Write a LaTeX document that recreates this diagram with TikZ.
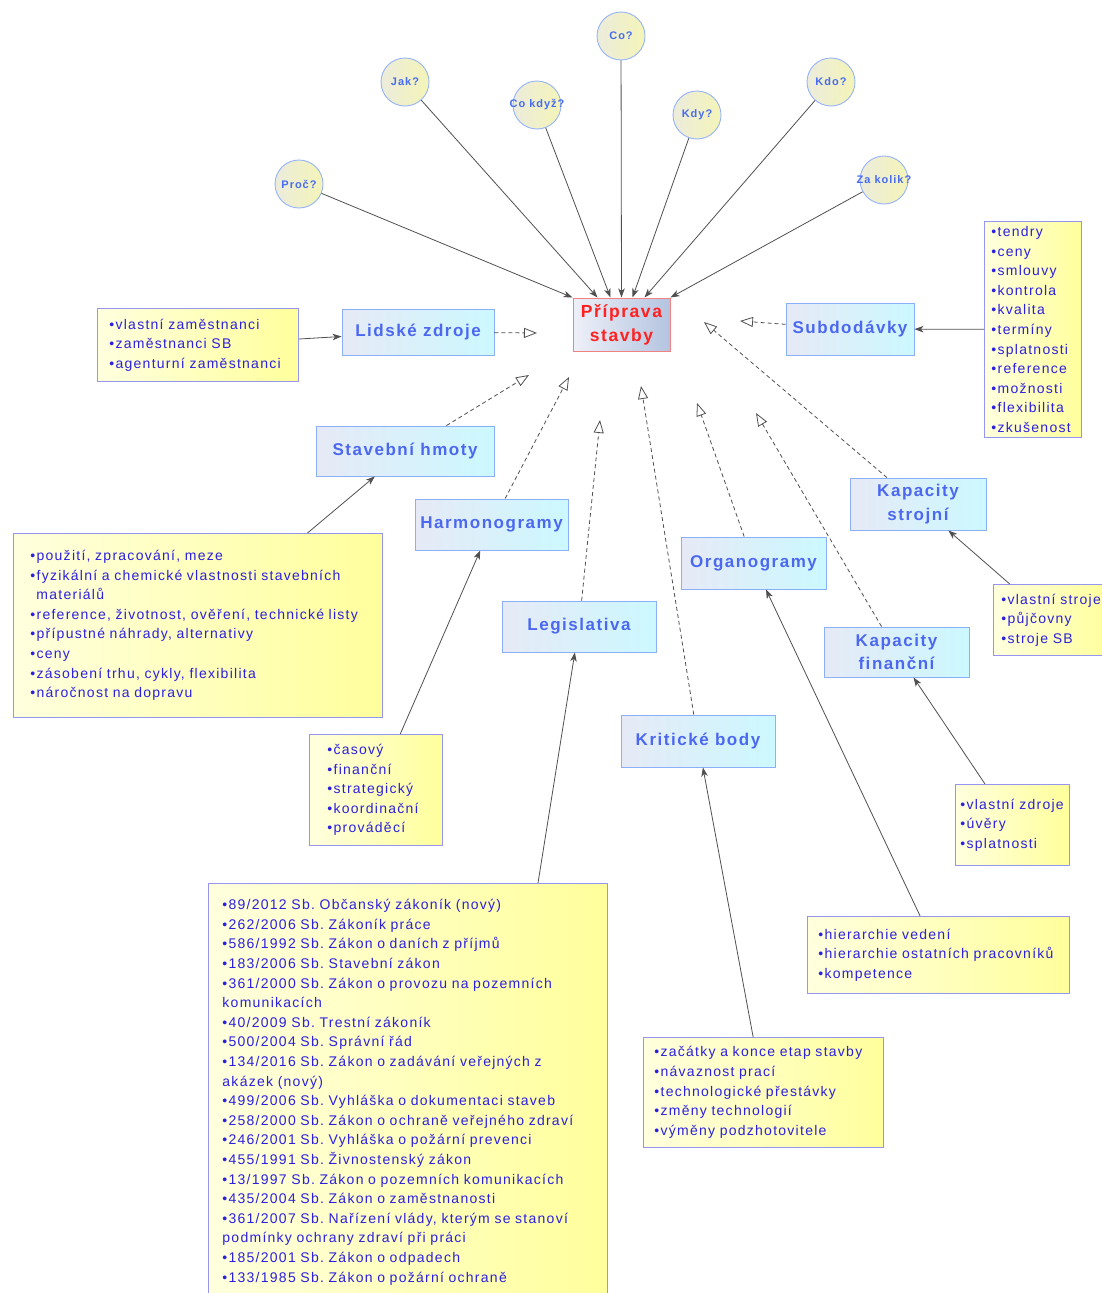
\documentclass[tikz,border=0pt]{standalone}
\usepackage{fontspec}
\setmainfont{Liberation Sans}[LetterSpace=9]
\usetikzlibrary{arrows.meta}

\definecolor{wire}{RGB}{80,80,80}
\definecolor{hubline}{RGB}{240,130,130}
\definecolor{hubL}{RGB}{238,240,248}
\definecolor{hubR}{RGB}{180,196,224}
\definecolor{hubtext}{RGB}{255,32,32}
\definecolor{topicline}{RGB}{140,176,248}
\definecolor{topicL}{RGB}{230,234,246}
\definecolor{topicR}{RGB}{204,248,255}
\definecolor{topictext}{RGB}{76,104,240}
\definecolor{noteline}{RGB}{150,150,240}
\definecolor{noteL}{RGB}{255,255,222}
\definecolor{noteR}{RGB}{255,255,156}
\definecolor{notetext}{RGB}{44,32,224}
\definecolor{askline}{RGB}{150,180,248}
\definecolor{askL}{RGB}{236,236,220}
\definecolor{askR}{RGB}{244,244,184}
\definecolor{asktext}{RGB}{72,108,240}

% one unbreakable row of a bullet list
\newcommand\rowtext[1]{\mbox{#1}}

\begin{document}
\frenchspacing
\begin{tikzpicture}[x=1pt, y=-1pt,
  hub/.style={rectangle, draw=hubline, line width=1pt, left color=hubL, right color=hubR,
    text=hubtext, font=\bfseries\fontsize{17.5}{24}\selectfont, align=center,
    minimum width=97pt, minimum height=53pt, inner sep=0pt},
  topic/.style={rectangle, draw=topicline, line width=0.9pt, left color=topicL, right color=topicR,
    text=topictext, font=\bfseries\fontsize{17}{23.5}\selectfont, align=center, inner sep=0pt},
  note/.style={rectangle, draw=noteline, line width=0.9pt, left color=noteL, right color=noteR,
    text=notetext, font=\fontsize{14}{19.6}\selectfont, align=left, anchor=north west, inner ysep=3pt},
  ask/.style={circle, draw=askline, line width=0.9pt, left color=askL, right color=askR,
    text=asktext, font=\bfseries\fontsize{11}{13}\selectfont, minimum size=48pt, inner sep=0pt},
  link/.style={draw=wire, line width=0.8pt, -{Stealth[length=9pt,width=6.5pt,inset=2.5pt]}},
  feed/.style={draw=wire, line width=0.8pt, dash pattern=on 4pt off 3pt,
    -{Triangle[open,length=13pt,width=10pt]}}
]
\fill[white] (0,0) rectangle (1102,1293);
\useasboundingbox (0,0) rectangle (1102,1293);

% central node
\node[hub] (hub) at (621.5,324.5) {Příprava\\stavby};

% questions
\node[ask] (proc) at (299,184) {\makebox[0pt]{Proč?}};
\node[ask] (jak)  at (405,82)  {\makebox[0pt]{Jak?}};
\node[ask] (cokd) at (537,105) {\makebox[0pt]{Co když?}};
\node[ask] (co)   at (621,36)  {\makebox[0pt]{Co?}};
\node[ask] (kdy)  at (697,115) {\makebox[0pt]{Kdy?}};
\node[ask] (kdo)  at (831,82)  {\makebox[0pt]{Kdo?}};
\node[ask] (zak)  at (884,180) {\makebox[0pt]{Za kolik?}};

\draw[link] (proc) -- (hub.north west);
\draw[link] (jak)  -- ([xshift=-24pt]hub.north);
\draw[link] (cokd) -- ([xshift=-11pt]hub.north);
\draw[link] (co)   -- (hub.north);
\draw[link] (kdy)  -- ([xshift=11pt]hub.north);
\draw[link] (kdo)  -- ([xshift=23pt]hub.north);
\draw[link] (zak)  -- (hub.north east);

% topics
\node[topic, minimum width=152, minimum height=46] (lidske)   at (418,332)     {Lidské zdroje};
\node[topic, minimum width=128, minimum height=52] (subdod)   at (850,329)     {Subdodávky};
\node[topic, minimum width=178, minimum height=50] (stavebni) at (405,451)     {Stavební hmoty};
\node[topic, minimum width=153, minimum height=51] (harmono)  at (491.5,524.5) {Harmonogramy};
\node[topic, minimum width=154, minimum height=51] (legis)    at (579,626.5)   {Legislativa};
\node[topic, minimum width=154, minimum height=52] (kriticke) at (698,741)     {Kritické body};
\node[topic, minimum width=145, minimum height=52] (organo)   at (753.5,563)   {Organogramy};
\node[topic, minimum width=136, minimum height=52] (kapstroj) at (918,504)     {Kapacity\\strojní};
\node[topic, minimum width=145, minimum height=50] (kapfin)   at (896.5,652)   {Kapacity\\finanční};

% open tips in front of the central node
\coordinate (tLid)  at (537,333);
\coordinate (tSub)  at (740,321);
\coordinate (tStav) at (529,375);
\coordinate (tHarm) at (569,377);
\coordinate (tLeg)  at (600,420);
\coordinate (tKrit) at (641,386);
\coordinate (tOrg)  at (697,403);
\coordinate (tStr)  at (704,322);
\coordinate (tFin)  at (756,413);

\draw[feed] (lidske)   -- (tLid);
\draw[feed] (subdod)   -- (tSub);
\draw[feed] (stavebni) -- (tStav);
\draw[feed] (harmono)  -- (tHarm);
\draw[feed] (legis)    -- (tLeg);
\draw[feed] (kriticke) -- (tKrit);
\draw[feed] (organo)   -- (tOrg);
\draw[feed] (kapstroj) -- (tStr);
\draw[feed] (kapfin)   -- (tFin);

% detail lists
\node[note, text width=177, minimum height=73, inner xsep=12] (lidList) at (97,308) {%
\rowtext{•vlastní zaměstnanci}\\
\rowtext{•zaměstnanci SB}\\
\rowtext{•agenturní zaměstnanci}};

\node[note, text width=83, minimum height=216, inner xsep=7] (subList) at (984,221) {%
\rowtext{•tendry}\\
\rowtext{•ceny}\\
\rowtext{•smlouvy}\\
\rowtext{•kontrola}\\
\rowtext{•kvalita}\\
\rowtext{•termíny}\\
\rowtext{•splatnosti}\\
\rowtext{•reference}\\
\rowtext{•možnosti}\\
\rowtext{•flexibilita}\\
\rowtext{•zkušenost}};

\node[note, text width=335, minimum height=184, inner xsep=17] (stavList) at (13,533) {%
\rowtext{•použití, zpracování, meze}\\
\rowtext{•fyzikální a chemické vlastnosti stavebních}\\
\rowtext{\hspace*{6pt}materiálů}\\
\rowtext{•reference, životnost, ověření, technické listy}\\
\rowtext{•přípustné náhrady, alternativy}\\
\rowtext{•ceny}\\
\rowtext{•zásobení trhu, cykly, flexibilita}\\
\rowtext{•náročnost na dopravu}};

\node[note, text width=97, minimum height=111, inner xsep=18] (harmList) at (309,734) {%
\rowtext{•časový}\\
\rowtext{•finanční}\\
\rowtext{•strategický}\\
\rowtext{•koordinační}\\
\rowtext{•prováděcí}};

\node[note, text width=371, inner xsep=14, inner ysep=16] (legList) at (208,883) {%
\rowtext{•89/2012 Sb. Občanský zákoník (nový)}\\
\rowtext{•262/2006 Sb. Zákoník práce}\\
\rowtext{•586/1992 Sb. Zákon o daních z příjmů}\\
\rowtext{•183/2006 Sb. Stavební zákon}\\
\rowtext{•361/2000 Sb. Zákon o provozu na pozemních}\\
\rowtext{komunikacích}\\
\rowtext{•40/2009 Sb. Trestní zákoník}\\
\rowtext{•500/2004 Sb. Správní řád}\\
\rowtext{•134/2016 Sb. Zákon o zadávání veřejných z}\\
\rowtext{akázek (nový)}\\
\rowtext{•499/2006 Sb. Vyhláška o dokumentaci staveb}\\
\rowtext{•258/2000 Sb. Zákon o ochraně veřejného zdraví}\\
\rowtext{•246/2001 Sb. Vyhláška o požární prevenci}\\
\rowtext{•455/1991 Sb. Živnostenský zákon}\\
\rowtext{•13/1997 Sb. Zákon o pozemních komunikacích}\\
\rowtext{•435/2004 Sb. Zákon o zaměstnanosti}\\
\rowtext{•361/2007 Sb. Nařízení vlády, kterým se stanoví}\\
\rowtext{podmínky ochrany zdraví při práci}\\
\rowtext{•185/2001 Sb. Zákon o odpadech}\\
\rowtext{•133/1985 Sb. Zákon o požární ochraně}};

\node[note, text width=218, minimum height=110, inner xsep=11] (kritList) at (643,1037) {%
\rowtext{•začátky a konce etap stavby}\\
\rowtext{•návaznost prací}\\
\rowtext{•technologické přestávky}\\
\rowtext{•změny technologií}\\
\rowtext{•výměny podzhotovitele}};

\node[note, text width=240, minimum height=77, inner xsep=11] (orgList) at (807,916) {%
\rowtext{•hierarchie vedení}\\
\rowtext{•hierarchie ostatních pracovníků}\\
\rowtext{•kompetence}};

\node[note, text width=99, minimum height=71, inner xsep=8] (strojList) at (993,584) {%
\rowtext{•vlastní stroje}\\
\rowtext{•půjčovny}\\
\rowtext{•stroje SB}};

\node[note, text width=104, minimum height=81, inner xsep=5] (finList) at (955,784) {%
\rowtext{•vlastní zdroje}\\
\rowtext{•úvěry}\\
\rowtext{•splatnosti}};

% lists feeding their topics
\draw[link] (lidList)   -- (lidske);
\draw[link] (subList)   -- (subdod);
\draw[link] (stavList)  -- (stavebni);
\draw[link] (harmList)  -- (harmono);
\draw[link] ([xshift=330pt]legList.north west) -- (legis);
\draw[link] (kritList)  -- (kriticke);
\draw[link] (orgList)   -- (organo);
\draw[link] (strojList) -- (kapstroj);
\draw[link] (finList)   -- (kapfin);
\end{tikzpicture}
\end{document}
